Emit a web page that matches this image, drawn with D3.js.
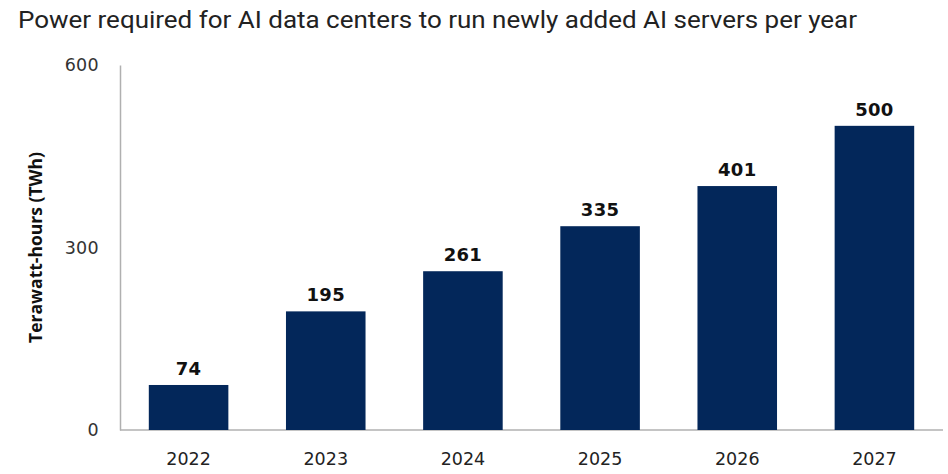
<!DOCTYPE html>
<html>
<head>
<meta charset="utf-8">
<script src="https://cdn.jsdelivr.net/npm/d3@7"></script>
<style>
  html, body { margin: 0; padding: 0; background: #fff; }
  svg { display: block; }
</style>
</head>
<body>
<svg id="chart" width="948" height="474"></svg>
<script>
const title = "Power required for AI data centers to run newly added AI servers per year";
const yAxisTitle = "Terawatt-hours (TWh)";
const years = ["2022", "2023", "2024", "2025", "2026", "2027"];
const values = [74, 195, 261, 335, 401, 500];
const yTicks = [0, 300, 600];

const svg = d3.select("#chart");
const margin = { left: 120, right: 5, top: 65, bottom: 44 };
const W = 948, H = 474;

const x = d3.scaleBand()
  .domain(years)
  .range([margin.left, W - margin.right])
  .paddingInner(0.42)
  .paddingOuter(0.21);

const y = d3.scaleLinear()
  .domain([0, 600])
  .range([H - margin.bottom, margin.top]);

// Title
const t = svg.append("text")
  .attr("x", 18)
  .attr("y", 28)
  .attr("font-family", "'Liberation Sans Narrow', 'Roboto', 'Liberation Sans', sans-serif")
  .attr("font-size", 24)
  .attr("fill", "#222")
  .text(title);
t.attr("textLength", 839).attr("lengthAdjust", "spacingAndGlyphs");

// Y axis
const yAxis = svg.append("g")
  .attr("transform", `translate(${margin.left},0)`)
  .call(d3.axisLeft(y).tickValues(yTicks).tickSize(0).tickPadding(21).tickFormat(d3.format("d")));
yAxis.select(".domain").attr("stroke", "#b0b0b0").attr("stroke-width", 1.5);
yAxis.selectAll("text")
  .attr("font-family", "'DejaVu Sans', sans-serif")
  .attr("font-size", 17.5)
  .attr("letter-spacing", 0.3)
  .attr("fill", "#333");

// X axis
const xAxis = svg.append("g")
  .attr("transform", `translate(0,${y(0)})`)
  .call(d3.axisBottom(x).tickSize(0).tickPadding(23));
xAxis.select(".domain").attr("stroke", "#b0b0b0").attr("stroke-width", 1.5)
  .attr("d", `M${margin.left},0H${W - margin.right}`);
xAxis.selectAll("text")
  .attr("font-family", "'DejaVu Sans', sans-serif")
  .attr("font-size", 17.5)
  .attr("fill", "#222");

// Bars
svg.append("g").selectAll("rect")
  .data(years.map((yr, i) => ({ yr, v: values[i] })))
  .join("rect")
  .attr("x", d => x(d.yr))
  .attr("width", x.bandwidth())
  .attr("y", d => y(d.v))
  .attr("height", d => y(0) - y(d.v))
  .attr("fill", "#03275a");

// Value labels
svg.append("g").selectAll("text")
  .data(years.map((yr, i) => ({ yr, v: values[i] })))
  .join("text")
  .attr("x", d => x(d.yr) + x.bandwidth() / 2)
  .attr("y", d => y(d.v) - 10)
  .attr("text-anchor", "middle")
  .attr("font-family", "'DejaVu Sans', sans-serif")
  .attr("font-weight", 700)
  .attr("font-size", 18)
  .attr("letter-spacing", 0.3)
  .attr("fill", "#111")
  .text(d => d.v);

// Y axis title
svg.append("text")
  .attr("transform", `translate(42,${(y(0) + y(600)) / 2}) rotate(-90)`)
  .attr("text-anchor", "middle")
  .attr("font-family", "'Open Sans', 'Liberation Sans', sans-serif")
  .attr("font-weight", 700)
  .attr("font-size", 17.5)
  .attr("fill", "#111")
  .text(yAxisTitle);
</script>
</body>
</html>
